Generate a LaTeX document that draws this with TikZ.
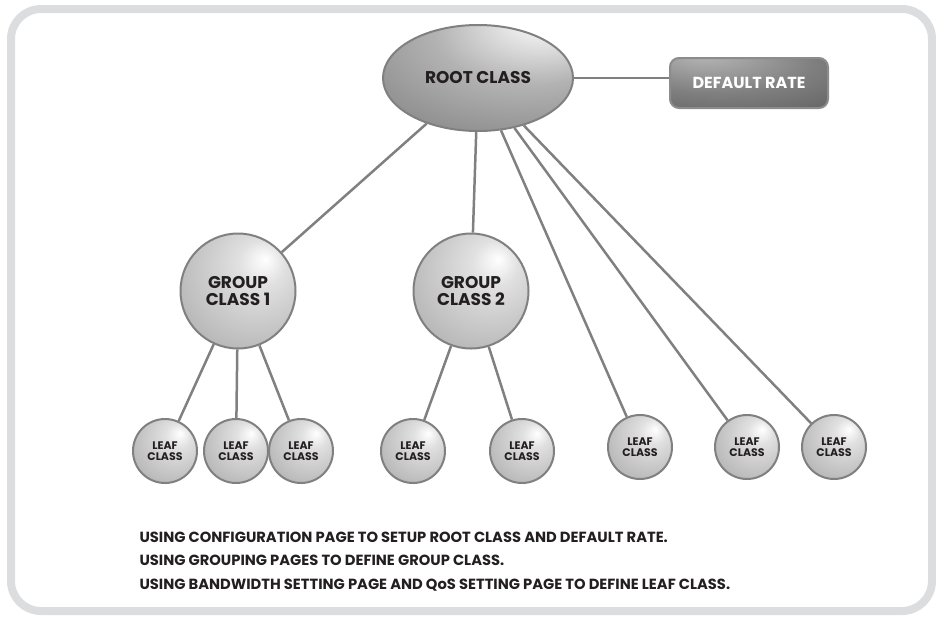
\documentclass[tikz,border=0pt]{standalone}
\usepackage{fontspec}
\setmainfont{Poppins}
\usetikzlibrary{positioning,shapes.geometric,backgrounds}

\definecolor{framegray}{HTML}{DCDDDF}
\definecolor{linegray}{HTML}{808080}
\definecolor{inkgray}{HTML}{231F20}

% shadings for the balls, the root and the rate box
\pgfdeclareradialshading{sphereshade}{\pgfpoint{12bp}{14bp}}{color(0bp)=(white); color(10bp)=(black!12); color(30bp)=(black!25); color(55bp)=(black!42); color(70bp)=(black!52)}
\pgfdeclareradialshading{rootshade}{\pgfpoint{19bp}{30bp}}{color(0bp)=(white); color(8bp)=(black!8); color(25bp)=(black!30); color(50bp)=(black!48); color(75bp)=(black!68); color(90bp)=(black!72)}
\pgfdeclareradialshading{rateshade}{\pgfpoint{-15bp}{30bp}}{color(0bp)=(black!28); color(30bp)=(black!50); color(70bp)=(black!70); color(90bp)=(black!75)}

\tikzset{
  rootclass/.style={ellipse, minimum width=190, minimum height=106, inner sep=0,
    draw=linegray, line width=2, shading=rootshade, text=inkgray,
    font=\fontsize{17}{17}\selectfont\bfseries},
  ratebox/.style={rectangle, rounded corners=9, minimum width=158, minimum height=50,
    draw=black!45, line width=2, shading=rateshade, text=white,
    font=\fontsize{16}{16}\selectfont\bfseries},
  groupclass/.style={circle, minimum size=115, inner sep=0, align=center,
    draw=linegray, line width=2, shading=sphereshade, text=inkgray,
    font=\fontsize{17}{17}\selectfont\bfseries},
  leafclass/.style={circle, minimum size=64, inner sep=0, align=center,
    draw=linegray, line width=2, shading=sphereshade, text=inkgray,
    font=\fontsize{11}{11}\selectfont\bfseries},
  branch/.style={draw=linegray, line width=2.5},
}

\begin{document}
\begin{tikzpicture}[x=1pt, y=-1pt]

  \useasboundingbox (0,0) rectangle (936,616);
  \draw [framegray, line width=8, rounded corners=30] (11,9) rectangle (932,611);

  \node[rootclass] (root) at (478,78) {ROOT CLASS};
  \node[ratebox] (rate) at (749,83) {DEFAULT RATE};

  \node[groupclass] (g1) at (238,291) {GROUP\\CLASS 1};
  \node[groupclass] (g2) at (471,291) {GROUP\\CLASS 2};

  \node[leafclass] (l1) at (165,451) {LEAF\\CLASS};
  \node[leafclass] (l2) at (236,451) {LEAF\\CLASS};
  \node[leafclass] (l3) at (301,451) {LEAF\\CLASS};
  \node[leafclass] (l4) at (413,451) {LEAF\\CLASS};
  \node[leafclass] (l5) at (522,451) {LEAF\\CLASS};
  \node[leafclass] (l6) at (640,447) {LEAF\\CLASS};
  \node[leafclass] (l7) at (747,447) {LEAF\\CLASS};
  \node[leafclass] (l8) at (834,447) {LEAF\\CLASS};

  \node[anchor=base west, align=left, text=inkgray,
        font=\fontsize{14.7}{23}\selectfont\bfseries] (notes) at (136,589)
    {USING CONFIGURATION PAGE TO SETUP ROOT CLASS AND DEFAULT RATE.\\[0.5pt]
     USING GROUPING PAGES TO DEFINE GROUP CLASS.\\[0.5pt]
     USING BANDWIDTH SETTING PAGE AND QoS SETTING PAGE TO DEFINE LEAF CLASS.};

  \begin{scope}[on background layer]
    \draw [branch] (root.east) -- (root.east -| rate.west);
    \draw [branch] (root) -- (g1);
    \draw [branch] (root) -- (g2);
    \draw [branch] (root) -- (l6);
    \draw [branch] (root) -- (l7);
    \draw [branch] (root) -- (l8);
    \draw [branch] (g1) -- (l1);
    \draw [branch] (g1) -- (l2);
    \draw [branch] (g1) -- (l3);
    \draw [branch] (g2) -- (l4);
    \draw [branch] (g2) -- (l5);
  \end{scope}

\end{tikzpicture}
\end{document}
